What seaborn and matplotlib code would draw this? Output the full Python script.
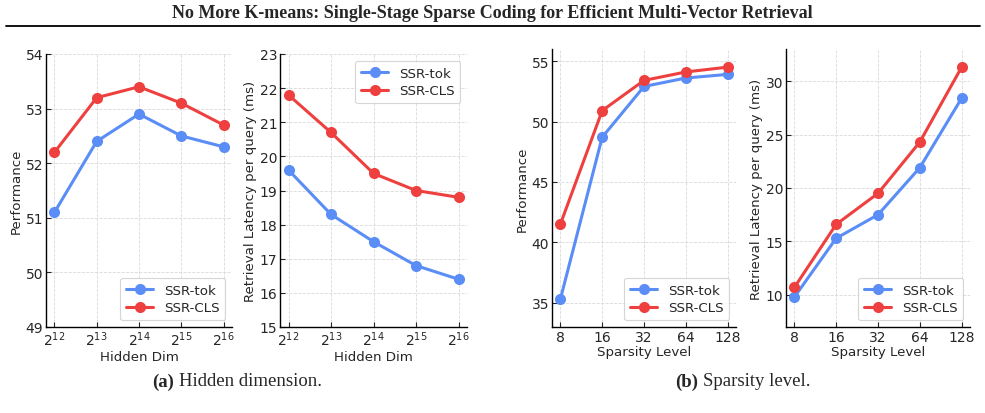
import numpy as np
import pandas as pd
import seaborn as sns
import matplotlib
matplotlib.use("Agg")
import matplotlib.pyplot as plt
from matplotlib.lines import Line2D

# ---------------- data ----------------
hidden_labels = [r"$2^{12}$", r"$2^{13}$", r"$2^{14}$", r"$2^{15}$", r"$2^{16}$"]
sparsity_labels = ["8", "16", "32", "64", "128"]

hd_perf_tok = [51.1, 52.4, 52.9, 52.5, 52.3]
hd_perf_cls = [52.2, 53.2, 53.4, 53.1, 52.7]
hd_lat_tok = [19.6, 18.3, 17.5, 16.8, 16.4]
hd_lat_cls = [21.8, 20.7, 19.5, 19.0, 18.8]

sp_perf_tok = [35.3, 48.7, 52.9, 53.6, 53.9]
sp_perf_cls = [41.5, 50.9, 53.4, 54.1, 54.5]
sp_lat_tok = [9.8, 15.3, 17.5, 21.9, 28.4]
sp_lat_cls = [10.7, 16.6, 19.5, 24.3, 31.3]

methods = ["SSR-tok", "SSR-CLS"]
colors = {"SSR-tok": "#5B8DF6", "SSR-CLS": "#EF4040"}

W, H = 985, 414
sns.set_style("ticks")
plt.rcParams["font.family"] = ["DejaVu Sans"]
fig = plt.figure(figsize=(W / 100, H / 100), dpi=100)


def px_axes(left, top, right, bottom):
    return fig.add_axes([left / W, 1 - bottom / H, (right - left) / W, (bottom - top) / H])


def panel(ax, labels, tok, cls, ylim, yticks, ylabel, xlabel, legend_loc):
    df = pd.DataFrame({
        "pos": list(range(len(labels))) * 2,
        "val": list(tok) + list(cls),
        "method": [methods[0]] * len(tok) + [methods[1]] * len(cls),
    })
    sns.lineplot(data=df, x="pos", y="val", hue="method", palette=colors,
                 marker="o", markersize=8, markeredgewidth=0, linewidth=2.2, ax=ax)
    ax.set_xlim(-0.2, len(labels) - 1 + 0.2)
    ax.set_ylim(*ylim)
    ax.set_yticks(yticks)
    ax.set_xticks(range(len(labels)))
    ax.set_xticklabels(labels)
    ax.set_xlabel(xlabel, fontsize=9.6, labelpad=1)
    ax.set_ylabel(ylabel, fontsize=9.6, labelpad=2)
    ax.tick_params(direction="in", length=3.5, width=0.8, labelsize=10, pad=2)
    ax.grid(True, linestyle="--", color="#d9d9d9", linewidth=0.6)
    ax.set_axisbelow(True)
    for s in ["top", "right"]:
        ax.spines[s].set_visible(False)
    for s in ["left", "bottom"]:
        ax.spines[s].set_linewidth(1.0)
        ax.spines[s].set_color("black")
    leg = ax.legend(loc=legend_loc, fontsize=9.6, frameon=True, fancybox=True,
                    handlelength=2.0, borderpad=0.45, labelspacing=0.35, title=None)
    leg.get_frame().set_edgecolor("#cccccc")
    leg.get_frame().set_linewidth(0.8)


ax1 = px_axes(46, 55, 232, 328)
panel(ax1, hidden_labels, hd_perf_tok, hd_perf_cls, (49, 54), [49, 50, 51, 52, 53, 54],
      "Performance", "Hidden Dim", "lower right")
ax2 = px_axes(280, 55, 467, 328)
panel(ax2, hidden_labels, hd_lat_tok, hd_lat_cls, (15, 23), list(range(15, 24)),
      "Retrieval Latency per query (ms)", "Hidden Dim", "upper right")
ax3 = px_axes(552, 50, 736, 328)
panel(ax3, sparsity_labels, sp_perf_tok, sp_perf_cls, (33, 56), [35, 40, 45, 50, 55],
      "Performance", "Sparsity Level", "lower right")
ax4 = px_axes(786, 50, 970, 328)
panel(ax4, sparsity_labels, sp_lat_tok, sp_lat_cls, (7, 33), [10, 15, 20, 25, 30],
      "Retrieval Latency per query (ms)", "Sparsity Level", "lower right")

# title and rule
serif = ["Liberation Serif", "DejaVu Serif"]
fig.text(0.5, 1 - 14 / H,
         "No More K-means: Single-Stage Sparse Coding for Efficient Multi-Vector Retrieval",
         ha="center", va="center", fontsize=13, fontweight="bold", family=serif)
fig.add_artist(Line2D([6 / W, 980 / W], [1 - 27 / H, 1 - 27 / H], color="black", linewidth=1.3))

# captions: bold tag + regular text
renderer = fig.canvas.get_renderer()


def caption(x_left_px, y_px, tag, text, size=13.5):
    t1 = fig.text(x_left_px / W, 1 - y_px / H, tag, ha="left", va="center",
                  fontsize=size, fontweight="bold", family=serif)
    bb = t1.get_window_extent(renderer=renderer)
    gap = size * 100 / 72 * 0.25
    fig.text((bb.x1 + gap) / W, 1 - y_px / H, text, ha="left", va="center",
             fontsize=size, family=serif)


caption(152, 382, "(a)", "Hidden dimension.")
caption(675, 382, "(b)", "Sparsity level.")

fig.savefig("out.png", dpi=100)
